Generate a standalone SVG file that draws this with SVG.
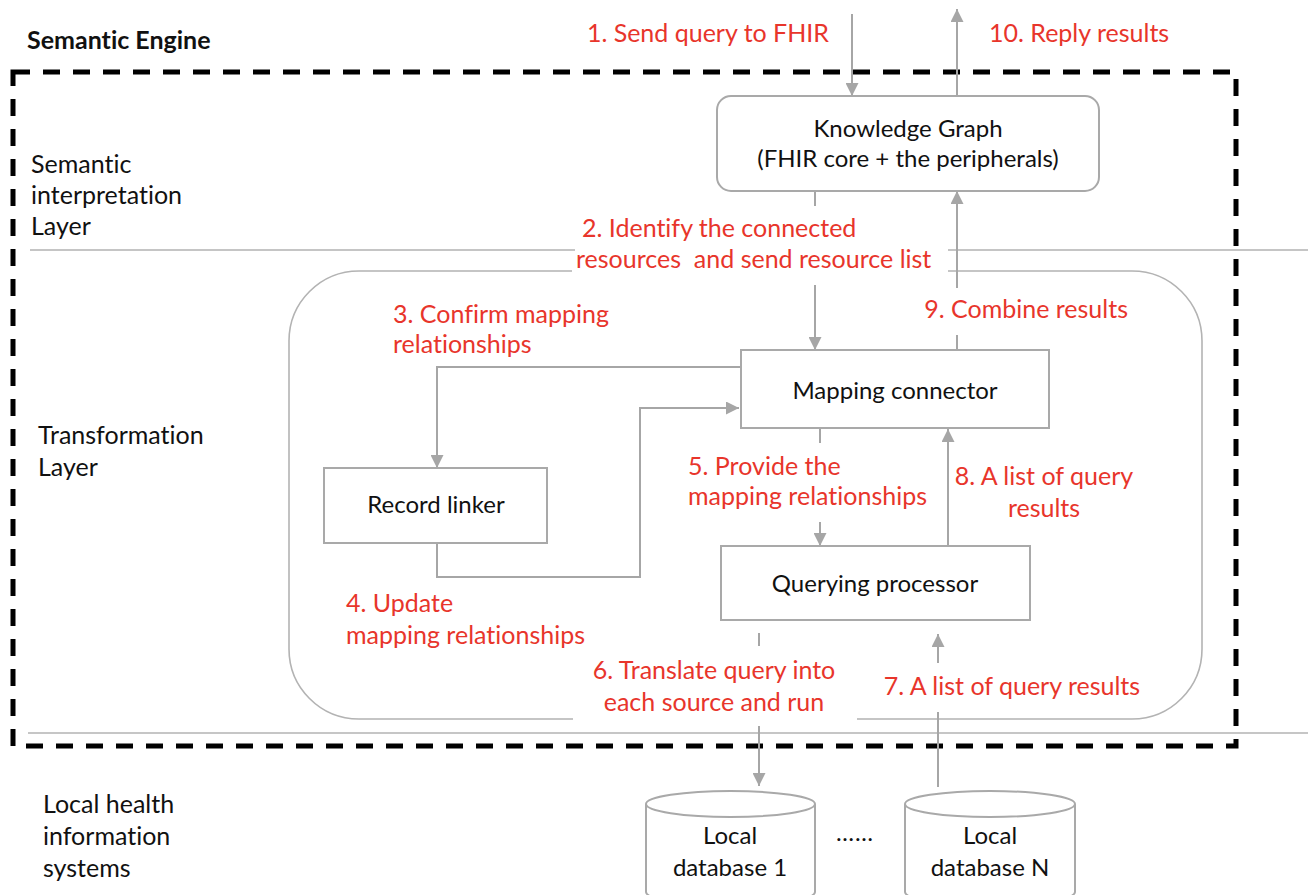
<svg xmlns="http://www.w3.org/2000/svg" width="1308" height="895" viewBox="0 0 1308 895">
  <style>
    text { font-family: Lato, "Liberation Sans", sans-serif; font-variant-ligatures: none; }
    .lbl { font-size: 25px; fill: #111; }
    .node { font-size: 24px; fill: #111; text-anchor: middle; }
    .red { font-size: 25px; fill: #e8352b; }
    .title { font-size: 25px; font-weight: bold; fill: #111; }
    .box { fill: #fff; stroke: #a9a9a9; stroke-width: 2; }
    .sep { fill: none; stroke: #b3b3b3; stroke-width: 1.6; }
    .edge { fill: none; stroke: #a6a6a6; stroke-width: 2; }
    .frame { fill: none; stroke: #000; stroke-width: 5; stroke-dasharray: 17 13; }
  </style>
  <defs>
    <marker id="arr" viewBox="0 0 10 10" refX="10" refY="5" markerWidth="6.5" markerHeight="6.5" markerUnits="strokeWidth" orient="auto">
      <path d="M0,0 L10,5 L0,10 z" fill="#a6a6a6"/>
    </marker>
  </defs>

  <rect width="1308" height="895" fill="#fff"/>

  <!-- engine boundary and layer separators -->
  <g id="layers">
    <rect class="frame" x="13" y="72" width="1223" height="674"/>
    <path class="sep" d="M30 250 H575 M948 250 H1308"/>
    <path class="sep" d="M28 733 H1308"/>
    <path class="sep" d="M572 271 H359 A70 70 0 0 0 289 341 V649 A70 70 0 0 0 359 719 H573 M857 719 H1132 A70 70 0 0 0 1202 649 V341 A70 70 0 0 0 1132 271 H948"/>
    <text class="title" x="27" y="49">Semantic Engine</text>
    <text class="lbl" x="31" y="173">Semantic</text>
    <text class="lbl" x="31" y="204">interpretation</text>
    <text class="lbl" x="31" y="235">Layer</text>
    <text class="lbl" x="38" y="444">Transformation</text>
    <text class="lbl" x="38" y="476">Layer</text>
    <text class="lbl" x="43" y="813">Local health</text>
    <text class="lbl" x="43" y="845">information</text>
    <text class="lbl" x="43" y="877">systems</text>
  </g>

  <!-- connectors -->
  <g id="connectors">
    <path class="edge" d="M852 14 V96" marker-end="url(#arr)"/>
    <path class="edge" d="M957 96 V9" marker-end="url(#arr)"/>
    <path class="edge" d="M957 350 V335 M957 288 V191" marker-end="url(#arr)"/>
    <path class="edge" d="M815 191 V206"/>
    <path class="edge" d="M815 285 V350" marker-end="url(#arr)"/>
    <path class="edge" d="M741 367 H437 V468" marker-end="url(#arr)"/>
    <path class="edge" d="M437 543 V577 H640 V408 H739" marker-end="url(#arr)"/>
    <path class="edge" d="M820 428 V443"/>
    <path class="edge" d="M820 522 V546" marker-end="url(#arr)"/>
    <path class="edge" d="M948 546 V429" marker-end="url(#arr)"/>
    <path class="edge" d="M759 633 V646"/>
    <path class="edge" d="M759 726 V786" marker-end="url(#arr)"/>
    <path class="edge" d="M938 787 V712"/>
    <path class="edge" d="M938 663 V634" marker-end="url(#arr)"/>
  </g>

  <!-- step labels -->
  <g id="steps">
    <text class="red" x="829" y="42" text-anchor="end">1. Send query to FHIR</text>
    <text class="red" x="989" y="42">10. Reply results</text>
    <text class="red" x="582" y="237">2. Identify the connected</text>
    <text class="red" x="576" y="268" style="white-space:pre">resources  and send resource list</text>
    <text class="red" x="393" y="323">3. Confirm mapping</text>
    <text class="red" x="393" y="353">relationships</text>
    <text class="red" x="1128" y="318" text-anchor="end">9. Combine results</text>
    <text class="red" x="688" y="475">5. Provide the</text>
    <text class="red" x="688" y="505">mapping relationships</text>
    <text class="red" x="1044" y="485" text-anchor="middle">8. A list of query</text>
    <text class="red" x="1044" y="517" text-anchor="middle">results</text>
    <text class="red" x="346" y="612">4. Update</text>
    <text class="red" x="346" y="644">mapping relationships</text>
    <text class="red" x="714" y="679" text-anchor="middle">6. Translate query into</text>
    <text class="red" x="714" y="711" text-anchor="middle">each source and run</text>
    <text class="red" x="1012" y="695" text-anchor="middle">7. A list of query results</text>
  </g>

  <g id="knowledge-graph">
    <rect class="box" x="717" y="96" width="382" height="95" rx="14"/>
    <text class="node" x="908" y="137">Knowledge Graph</text>
    <text class="node" x="908" y="167">(FHIR core + the peripherals)</text>
  </g>

  <g id="mapping-connector">
    <rect class="box" x="741" y="350" width="308" height="78"/>
    <text class="node" x="895" y="399">Mapping connector</text>
  </g>

  <g id="record-linker">
    <rect class="box" x="324" y="468" width="223" height="75"/>
    <text class="node" x="436" y="513">Record linker</text>
  </g>

  <g id="querying-processor">
    <rect class="box" x="721" y="546" width="309" height="74"/>
    <text class="node" x="875" y="592">Querying processor</text>
  </g>

  <g id="database-1">
    <path class="box" d="M646 804 V892 A84.5 13 0 0 0 815 892 V804 A84.5 13 0 0 0 646 804 A84.5 13 0 0 0 815 804"/>
    <text class="node" x="730" y="844">Local</text>
    <text class="node" x="730" y="876">database 1</text>
  </g>

  <g id="ellipsis">
    <text class="node" x="855" y="841" letter-spacing="1">……</text>
  </g>

  <g id="database-n">
    <path class="box" d="M905 804 V892 A85 13 0 0 0 1075 892 V804 A85 13 0 0 0 905 804 A85 13 0 0 0 1075 804"/>
    <text class="node" x="990" y="844">Local</text>
    <text class="node" x="990" y="876">database N</text>
  </g>
</svg>
